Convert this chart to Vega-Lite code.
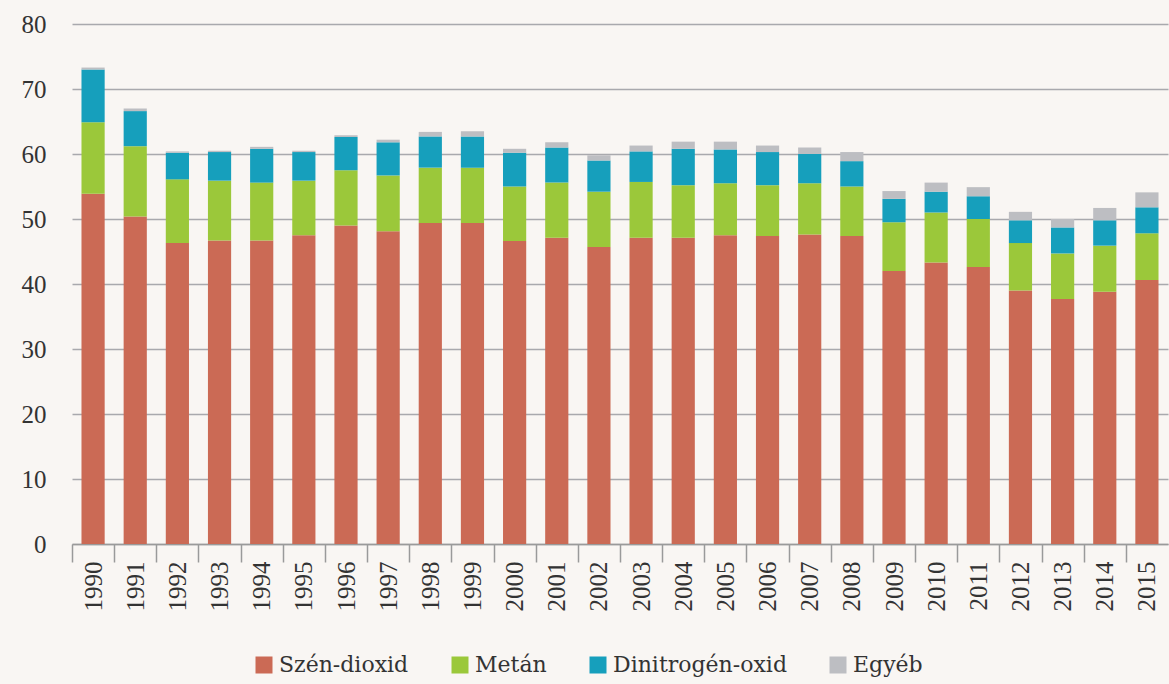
{
  "$schema": "https://vega.github.io/schema/vega-lite/v6.json",
  "width": 1096,
  "height": 520,
  "autosize": {"type": "none"},
  "padding": {"left": 72, "top": 24, "right": 1, "bottom": 140},
  "background": "#f9f6f3",
  "config": {
    "view": {"stroke": null},
    "font": "Liberation Serif",
    "axis": {"labelColor": "#333333", "labelFontSize": 25, "labelFont": "Liberation Serif"}
  },
  "data": {
    "values": [
      {"year": "1990", "Szén-dioxid": 53.9, "Metán": 11.0, "Dinitrogén-oxid": 8.1, "Egyéb": 0.3},
      {"year": "1991", "Szén-dioxid": 50.4, "Metán": 10.8, "Dinitrogén-oxid": 5.4, "Egyéb": 0.4},
      {"year": "1992", "Szén-dioxid": 46.3, "Metán": 9.8, "Dinitrogén-oxid": 4.1, "Egyéb": 0.2},
      {"year": "1993", "Szén-dioxid": 46.7, "Metán": 9.2, "Dinitrogén-oxid": 4.4, "Egyéb": 0.2},
      {"year": "1994", "Szén-dioxid": 46.7, "Metán": 8.9, "Dinitrogén-oxid": 5.2, "Egyéb": 0.3},
      {"year": "1995", "Szén-dioxid": 47.5, "Metán": 8.4, "Dinitrogén-oxid": 4.4, "Egyéb": 0.2},
      {"year": "1996", "Szén-dioxid": 49.0, "Metán": 8.5, "Dinitrogén-oxid": 5.1, "Egyéb": 0.3},
      {"year": "1997", "Szén-dioxid": 48.1, "Metán": 8.6, "Dinitrogén-oxid": 5.1, "Egyéb": 0.4},
      {"year": "1998", "Szén-dioxid": 49.4, "Metán": 8.5, "Dinitrogén-oxid": 4.8, "Egyéb": 0.7},
      {"year": "1999", "Szén-dioxid": 49.4, "Metán": 8.5, "Dinitrogén-oxid": 4.8, "Egyéb": 0.8},
      {"year": "2000", "Szén-dioxid": 46.6, "Metán": 8.4, "Dinitrogén-oxid": 5.2, "Egyéb": 0.6},
      {"year": "2001", "Szén-dioxid": 47.1, "Metán": 8.5, "Dinitrogén-oxid": 5.4, "Egyéb": 0.8},
      {"year": "2002", "Szén-dioxid": 45.7, "Metán": 8.5, "Dinitrogén-oxid": 4.8, "Egyéb": 0.8},
      {"year": "2003", "Szén-dioxid": 47.1, "Metán": 8.6, "Dinitrogén-oxid": 4.7, "Egyéb": 0.9},
      {"year": "2004", "Szén-dioxid": 47.1, "Metán": 8.1, "Dinitrogén-oxid": 5.6, "Egyéb": 1.1},
      {"year": "2005", "Szén-dioxid": 47.5, "Metán": 8.0, "Dinitrogén-oxid": 5.2, "Egyéb": 1.2},
      {"year": "2006", "Szén-dioxid": 47.4, "Metán": 7.8, "Dinitrogén-oxid": 5.1, "Egyéb": 1.0},
      {"year": "2007", "Szén-dioxid": 47.6, "Metán": 7.9, "Dinitrogén-oxid": 4.5, "Egyéb": 1.0},
      {"year": "2008", "Szén-dioxid": 47.4, "Metán": 7.6, "Dinitrogén-oxid": 3.9, "Egyéb": 1.4},
      {"year": "2009", "Szén-dioxid": 42.0, "Metán": 7.5, "Dinitrogén-oxid": 3.6, "Egyéb": 1.2},
      {"year": "2010", "Szén-dioxid": 43.3, "Metán": 7.7, "Dinitrogén-oxid": 3.2, "Egyéb": 1.4},
      {"year": "2011", "Szén-dioxid": 42.6, "Metán": 7.4, "Dinitrogén-oxid": 3.5, "Egyéb": 1.4},
      {"year": "2012", "Szén-dioxid": 39.0, "Metán": 7.3, "Dinitrogén-oxid": 3.5, "Egyéb": 1.3},
      {"year": "2013", "Szén-dioxid": 37.7, "Metán": 7.0, "Dinitrogén-oxid": 4.0, "Egyéb": 1.3},
      {"year": "2014", "Szén-dioxid": 38.8, "Metán": 7.1, "Dinitrogén-oxid": 3.9, "Egyéb": 1.9},
      {"year": "2015", "Szén-dioxid": 40.6, "Metán": 7.2, "Dinitrogén-oxid": 4.0, "Egyéb": 2.3}
    ]
  },
  "transform": [
    {"fold": ["Szén-dioxid", "Metán", "Dinitrogén-oxid", "Egyéb"], "as": ["gas", "value"]},
    {"window": [{"op": "row_number", "as": "k"}], "groupby": ["year"]}
  ],
  "mark": {"type": "bar"},
  "encoding": {
    "x": {
      "field": "year",
      "type": "ordinal",
      "scale": {"paddingInner": 0.45, "paddingOuter": 0.225},
      "axis": {
        "title": null,
        "labelAngle": -90,
        "domainColor": "#9a9a9a",
        "domainWidth": 1.5,
        "tickColor": "#9a9a9a",
        "tickWidth": 1.5,
        "tickSize": 18,
        "bandPosition": 0,
        "tickOffset": -9.48,
        "labelOffset": 9.48,
        "labelPadding": -1
      }
    },
    "y": {
      "field": "value",
      "type": "quantitative",
      "stack": "zero",
      "scale": {"domain": [0, 80], "nice": false},
      "axis": {
        "title": null,
        "values": [0, 10, 20, 30, 40, 50, 60, 70, 80],
        "domain": false,
        "ticks": false,
        "labelPadding": 26,
        "gridColor": "#a9a9ad",
        "gridWidth": 1.5
      }
    },
    "color": {
      "field": "gas",
      "type": "nominal",
      "sort": ["Szén-dioxid", "Metán", "Dinitrogén-oxid", "Egyéb"],
      "scale": {
        "domain": ["Szén-dioxid", "Metán", "Dinitrogén-oxid", "Egyéb"],
        "range": ["#cb6a55", "#9bc83a", "#169fbc", "#bdbec2"]
      },
      "legend": {
        "title": null,
        "orient": "none",
        "direction": "horizontal",
        "legendX": 181,
        "legendY": 630,
        "symbolType": "square",
        "symbolSize": 289,
        "symbolStrokeWidth": 0,
        "labelFont": "DejaVu Serif",
        "labelFontSize": 22,
        "labelLimit": 400,
        "labelColor": "#333333",
        "labelOffset": 4,
        "columnPadding": 40
      }
    },
    "order": {"field": "k", "type": "quantitative"}
  }
}
